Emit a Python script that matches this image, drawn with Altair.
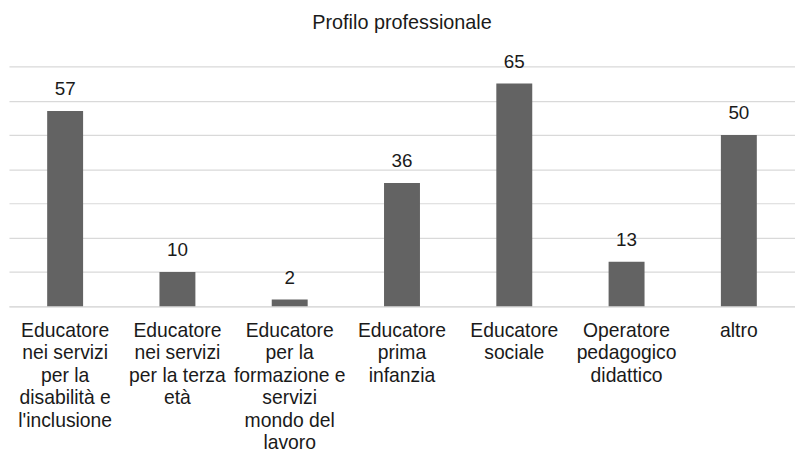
import altair as alt
import pandas as pd

categories = [
    "Educatore|nei servizi|per la|disabilità e|l'inclusione",
    "Educatore|nei servizi|per la terza|età",
    "Educatore|per la|formazione e|servizi|mondo del|lavoro",
    "Educatore|prima|infanzia",
    "Educatore|sociale",
    "Operatore|pedagogico|didattico",
    "altro",
]
values = [57, 10, 2, 36, 65, 13, 50]

df = pd.DataFrame({"cat": categories, "val": values})
FONT = "Liberation Sans"

base = alt.Chart(df).encode(
    x=alt.X("cat:N", sort=categories, title=None,
            scale=alt.Scale(paddingInner=0.68, paddingOuter=0.34),
            axis=alt.Axis(labelAngle=0, labelExpr="split(datum.label, '|')",
                          labelFont=FONT, labelFontSize=19.5, labelColor="#1a1a1a",
                          labelLineHeight=22.7, labelPadding=15, ticks=False,
                          domainColor="#d9d9d9", labelBaseline="top")),
    y=alt.Y("val:Q", title=None,
            scale=alt.Scale(domain=[0, 70], nice=False),
            axis=alt.Axis(values=[0, 10, 20, 30, 40, 50, 60, 70], labels=False,
                          ticks=False, domain=False, gridColor="#d9d9d9",
                          gridWidth=1.2)),
)

bars = base.mark_bar(color="#636363")
text = base.mark_text(dy=-16, font=FONT, fontSize=19, color="#1a1a1a",
                      baseline="alphabetic").encode(text="val:Q")

chart = (bars + text).properties(
    width=793, height=242,
    title=alt.TitleParams("Profilo professionale", font=FONT, fontSize=20,
                          fontWeight="normal", color="#1a1a1a", offset=20),
    autosize=alt.AutoSizeParams(type="none"),
    padding={"left": 1, "top": 57, "right": 0, "bottom": 146},
).configure_view(stroke=None)

chart.save("out.html", embed_options={"renderer": "svg", "actions": False})
